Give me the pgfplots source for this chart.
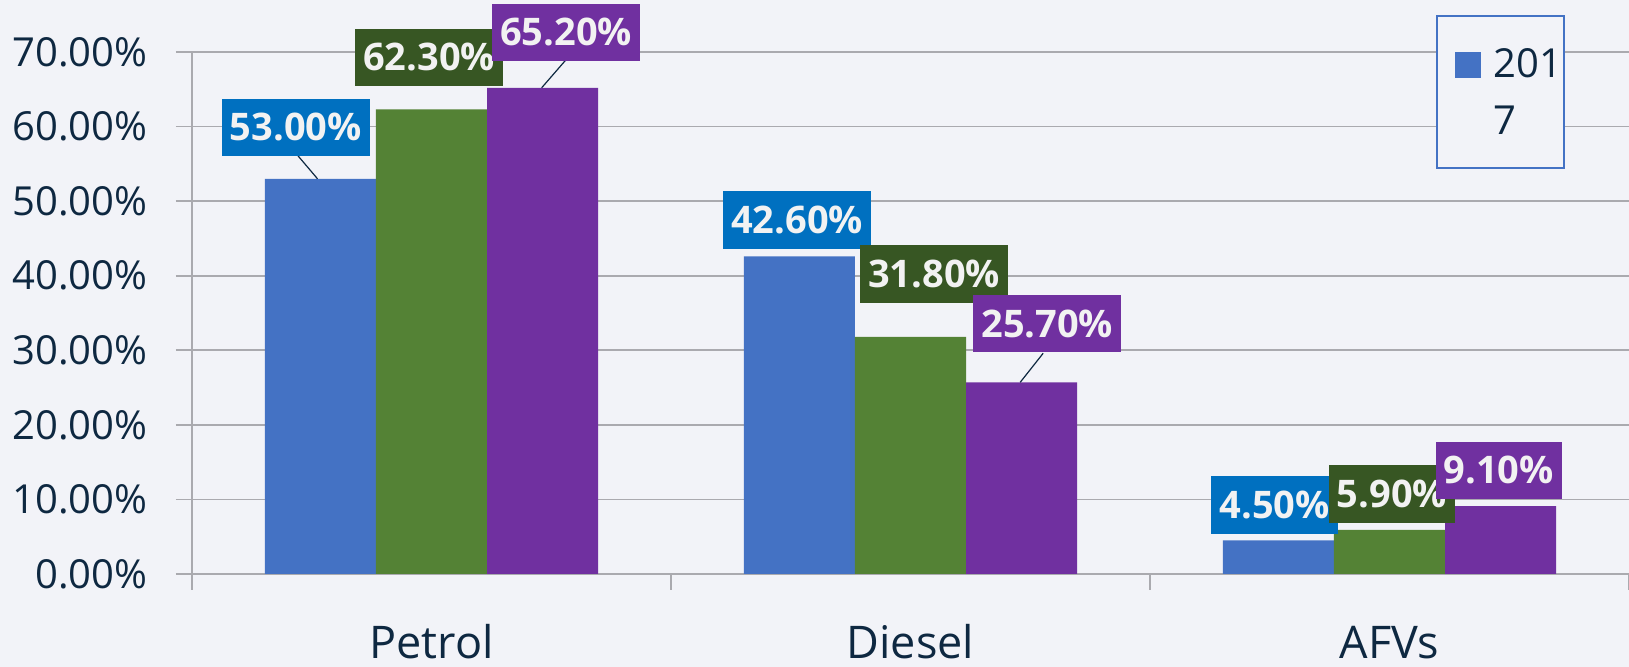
\documentclass[border=0pt]{standalone}
\usepackage{pgfplots}
\pgfplotsset{compat=1.18}
\usepackage{fontspec}
\setmainfont{Open Sans}
\definecolor{bg}{RGB}{242,243,248}
\definecolor{cblue}{RGB}{68,114,196}
\definecolor{cgreen}{RGB}{84,130,53}
\definecolor{cpurple}{RGB}{112,48,160}
\definecolor{lblue}{RGB}{0,112,192}
\definecolor{lgreen}{RGB}{55,86,35}
\definecolor{lpurple}{RGB}{112,48,160}
\definecolor{txt}{RGB}{14,40,65}
\definecolor{gridc}{RGB}{170,170,175}
\tikzset{lab/.style={text={rgb,255:red,242;green,242;blue,242}, font=\bfseries\fontsize{19}{22}\selectfont, inner xsep=4pt, inner ysep=0pt, minimum height=28.6pt, anchor=center}}
\begin{document}
\begin{tikzpicture}
\fill[bg] (0,0) rectangle (814.5pt,333.5pt);
\begin{axis}[
  at={(96pt,46.5pt)}, anchor=south west,
  width=718.5pt, height=261pt, scale only axis,
  xmin=0, xmax=3, ymin=0, ymax=70,
  clip=false,
  axis x line=bottom, axis y line=left,
  axis line style={-, draw=gridc, line width=0.8pt},
  tick align=outside, major tick length=8pt,
  tick style={draw=gridc, line width=0.8pt},
  ytick={0,10,20,30,40,50,60,70},
  yticklabels={0.00\%,10.00\%,20.00\%,30.00\%,40.00\%,50.00\%,60.00\%,70.00\%},
  ymajorgrids, grid style={draw=gridc, line width=0.8pt},
  xtick={0,1,2,3},
  xticklabels={Petrol,Diesel,AFVs,{}},
  xticklabel style={anchor=base, xshift=119.75pt, yshift=-34.5pt, inner sep=0pt, font=\fontsize{22.5}{27}\selectfont, text=txt},
  yticklabel style={anchor=east, inner sep=0pt, xshift=-14pt, font=\fontsize{20}{24}\selectfont, text=txt},
]
\addplot[ybar, bar width=0.232, bar shift=-0.232, fill=cblue, draw=none] coordinates {(0.5,53.0) (1.5,42.6) (2.5,4.5)};
\addplot[ybar, bar width=0.232, bar shift=0, fill=cgreen, draw=none] coordinates {(0.5,62.3) (1.5,31.8) (2.5,5.9)};
\addplot[ybar, bar width=0.232, bar shift=0.232, fill=cpurple, draw=none] coordinates {(0.5,65.2) (1.5,25.7) (2.5,9.1)};
\draw[txt, line width=0.6pt] (axis cs:0.221,56.1) -- (axis cs:0.262,53);
\draw[txt, line width=0.6pt] (axis cs:0.780,68.9) -- (axis cs:0.730,65.2);
\draw[txt, line width=0.6pt] (axis cs:1.777,29.6) -- (axis cs:1.729,25.7);
\node[lab, fill=lblue] at (axis cs:0.2167,59.91) {53.00\%};
\node[lab, fill=lgreen] at (axis cs:0.4951,69.30) {62.30\%};
\node[lab, fill=lpurple] at (axis cs:0.7811,72.64) {65.20\%};
\node[lab, fill=lblue] at (axis cs:1.2633,47.46) {42.60\%};
\node[lab, fill=lgreen] at (axis cs:1.5493,40.22) {31.80\%};
\node[lab, fill=lpurple] at (axis cs:1.7855,33.54) {25.70\%};
\node[lab, fill=lblue] at (axis cs:2.26,9.25) {4.50\%};
\node[lab, fill=lgreen] at (axis cs:2.505,10.72) {5.90\%};
\node[lab, fill=lpurple] at (axis cs:2.728,13.92) {9.10\%};
\end{axis}
\draw[cblue, line width=1pt, fill=bg] (718.5pt,249.5pt) rectangle (782pt,325.5pt);
\fill[cblue] (727.5pt,294.5pt) rectangle (740.5pt,307.5pt);
\node[anchor=base west, inner sep=0pt, text=txt, font=\fontsize{20}{24}\selectfont] at (746.5pt,294.5pt) {201};
\node[anchor=base west, inner sep=0pt, text=txt, font=\fontsize{20}{24}\selectfont] at (746.5pt,266pt) {7};
\pgfresetboundingbox
\path[use as bounding box] (0,0) rectangle (814.5pt,333.5pt);
\end{tikzpicture}
\end{document}
